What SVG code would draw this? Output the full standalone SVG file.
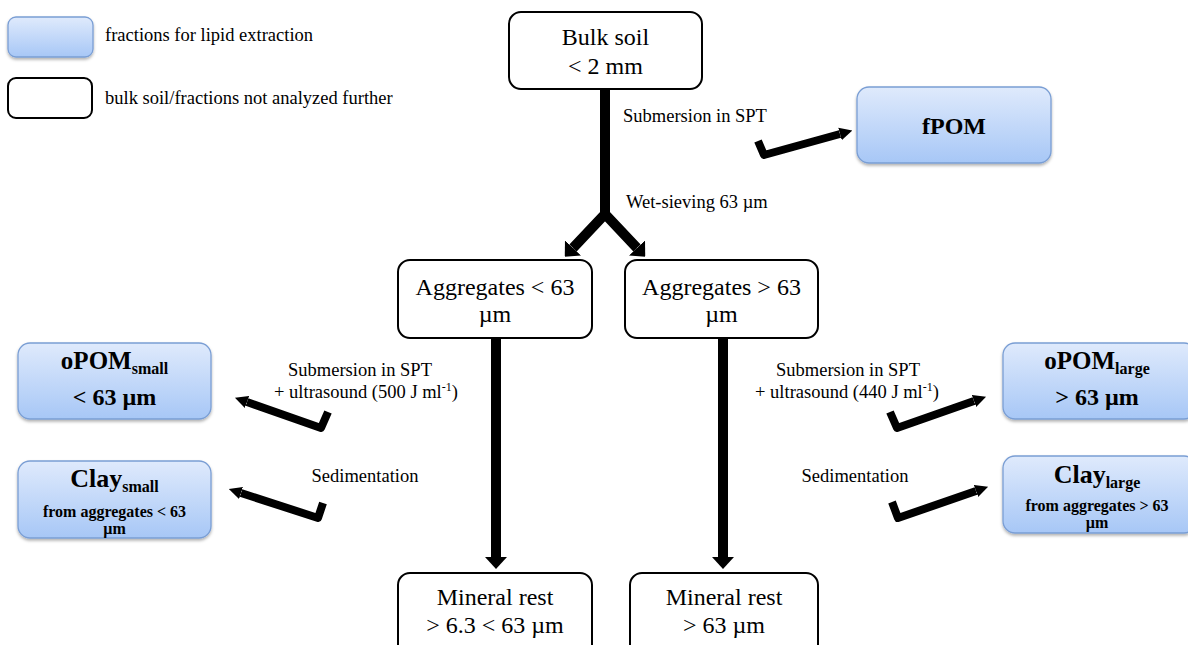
<svg xmlns="http://www.w3.org/2000/svg" width="1188" height="645" viewBox="0 0 1188 645">
<style>
text{font-family:"Liberation Serif","Times New Roman",serif;fill:#000}
.ann{font-size:18.5px}
.nodeT{font-size:24px}
.b{font-weight:bold}
.wbox{fill:#fff;stroke:#000;stroke-width:2}
.bbox{fill:url(#blueG);stroke:#7a9ed4;stroke-width:1.3;filter:url(#sh)}
.arr{fill:none;stroke:#000;stroke-width:8;stroke-linejoin:round;stroke-linecap:butt;marker-end:url(#hs)}
.arrT{fill:none;stroke:#000;stroke-width:10;stroke-linejoin:miter;stroke-linecap:butt}
</style>
<defs>
<linearGradient id="blueG" x1="0" y1="0" x2="0" y2="1">
<stop offset="0" stop-color="#dfeafc"/>
<stop offset="1" stop-color="#a7c7f6"/>
</linearGradient>
<filter id="sh" x="-10%" y="-10%" width="120%" height="130%">
<feDropShadow dx="0" dy="2" stdDeviation="1.5" flood-color="#000" flood-opacity="0.3"/>
</filter>
<marker id="hs" viewBox="0 0 10 10" refX="0" refY="5" markerWidth="1.6" markerHeight="1.9" orient="auto">
<path d="M0,0 L10,5 L0,10 z" fill="#000"/>
</marker>
<marker id="hb" viewBox="0 0 12 22" refX="0" refY="11" markerWidth="1.2" markerHeight="2.2" orient="auto-start-reverse">
<path d="M0,0 L12,11 L0,22 z" fill="#000"/>
</marker>
</defs>

<g id="legend">
<rect class="bbox" x="8" y="17" width="85" height="40" rx="8"/>
<text class="ann" x="105" y="41">fractions for lipid extraction</text>
<rect class="wbox" x="8" y="78" width="84" height="40" rx="8"/>
<text class="ann" x="105" y="104">bulk soil/fractions not analyzed further</text>
</g>

<g id="connectors">
<path class="arrT" d="M605,89 L605,218"/>
<path class="arrT" d="M573,248 L605,214 L637,248" marker-start="url(#hb)" marker-end="url(#hb)"/>
<path class="arrT" d="M496,338 L496,557" marker-end="url(#hb)"/>
<path class="arrT" d="M723,338 L723,557" marker-end="url(#hb)"/>
<path class="arr" d="M758,141 L764,155 L840,134"/>
<path class="arr" d="M328,412 L321,428 L247,402"/>
<path class="arr" d="M323,503 L318,518 L241,493"/>
<path class="arr" d="M890,412 L897,428 L974,401"/>
<path class="arr" d="M892,502 L898,518 L976,491"/>
</g>

<g id="labels">
<text class="ann" x="623" y="122">Submersion in SPT</text>
<text class="ann" x="626" y="208">Wet-sieving 63 µm</text>
<text class="ann" x="360" y="376" text-anchor="middle">Submersion in SPT</text>
<text class="ann" x="366" y="398" text-anchor="middle">+ ultrasound (500 J ml<tspan font-size="12" dy="-7">-1</tspan><tspan dy="7">)</tspan></text>
<text class="ann" x="365" y="482" text-anchor="middle">Sedimentation</text>
<text class="ann" x="848" y="376" text-anchor="middle">Submersion in SPT</text>
<text class="ann" x="847" y="398" text-anchor="middle">+ ultrasound (440 J ml<tspan font-size="12" dy="-7">-1</tspan><tspan dy="7">)</tspan></text>
<text class="ann" x="855" y="482" text-anchor="middle">Sedimentation</text>
</g>

<g id="bulk-soil">
<rect class="wbox" x="509" y="12" width="193" height="77" rx="12"/>
<text class="nodeT" x="605.5" y="45" text-anchor="middle">Bulk soil</text>
<text class="nodeT" x="605.5" y="74" text-anchor="middle">&lt; 2 mm</text>
</g>

<g id="fpom">
<rect class="bbox" x="857" y="87" width="194" height="76" rx="12"/>
<text class="nodeT b" x="954" y="134" text-anchor="middle">fPOM</text>
</g>

<g id="agg-small">
<rect class="wbox" x="398" y="260" width="194" height="78" rx="12"/>
<text class="nodeT" x="495" y="295" text-anchor="middle">Aggregates &lt; 63</text>
<text class="nodeT" x="495" y="322" text-anchor="middle">µm</text>
</g>

<g id="agg-large">
<rect class="wbox" x="625" y="260" width="193" height="78" rx="12"/>
<text class="nodeT" x="721.5" y="295" text-anchor="middle">Aggregates &gt; 63</text>
<text class="nodeT" x="721.5" y="322" text-anchor="middle">µm</text>
</g>

<g id="mineral-small">
<rect class="wbox" x="398" y="573" width="194" height="90" rx="12"/>
<text class="nodeT" x="495" y="605" text-anchor="middle">Mineral rest</text>
<text class="nodeT" x="495" y="633" text-anchor="middle">&gt; 6.3 &lt; 63 µm</text>
</g>

<g id="mineral-large">
<rect class="wbox" x="630" y="573" width="188" height="90" rx="12"/>
<text class="nodeT" x="724" y="605" text-anchor="middle">Mineral rest</text>
<text class="nodeT" x="724" y="633" text-anchor="middle">&gt; 63 µm</text>
</g>

<g id="opom-small">
<rect class="bbox" x="18" y="343" width="193" height="76" rx="12"/>
<text class="b" font-size="25" x="114.5" y="369" text-anchor="middle">oPOM<tspan font-size="16" dy="5">small</tspan></text>
<text class="b" font-size="24" x="114.5" y="405" text-anchor="middle">&lt; 63 µm</text>
</g>

<g id="clay-small">
<rect class="bbox" x="18" y="461" width="193" height="77" rx="12"/>
<text class="b" font-size="26" x="114.5" y="487" text-anchor="middle">Clay<tspan font-size="16" dy="5">small</tspan></text>
<text class="b" font-size="16" x="114.5" y="517" text-anchor="middle">from aggregates &lt; 63</text>
<text class="b" font-size="16" x="114.5" y="534" text-anchor="middle">µm</text>
</g>

<g id="opom-large">
<rect class="bbox" x="1003" y="343" width="193" height="76" rx="12"/>
<text class="b" font-size="25" x="1097" y="369" text-anchor="middle">oPOM<tspan font-size="16" dy="5">large</tspan></text>
<text class="b" font-size="24" x="1097" y="405" text-anchor="middle">&gt; 63 µm</text>
</g>

<g id="clay-large">
<rect class="bbox" x="1003" y="456" width="193" height="77" rx="12"/>
<text class="b" font-size="26" x="1097" y="483" text-anchor="middle">Clay<tspan font-size="16" dy="5">large</tspan></text>
<text class="b" font-size="16" x="1097" y="511" text-anchor="middle">from aggregates &gt; 63</text>
<text class="b" font-size="16" x="1097" y="528" text-anchor="middle">µm</text>
</g>
</svg>
